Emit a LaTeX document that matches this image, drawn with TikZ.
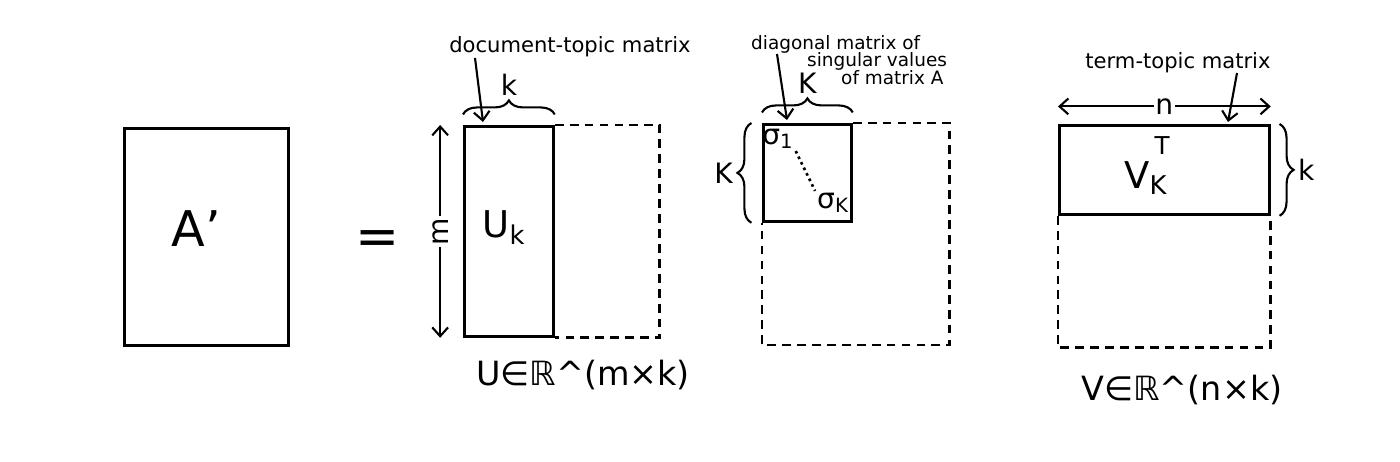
\documentclass[tikz,border=0pt]{standalone}
\usepackage{fontspec}
\setmainfont{DejaVu Sans}
\usetikzlibrary{arrows.meta,positioning,decorations.pathreplacing}
\tikzset{
  mat/.style={draw,line width=1.6pt,inner sep=0pt,anchor=north west},
  ghost/.style={draw,line width=1.6pt,dash pattern=on 5pt off 3.5pt},
  arr/.style={-{Straight Barb[length=5pt,width=9pt]},line width=1.2pt},
  dbl/.style={{Straight Barb[length=5pt,width=9pt]}-{Straight Barb[length=5pt,width=9pt]},line width=1.2pt},
  brc/.style={decorate,decoration={brace,amplitude=8pt},line width=1.2pt},
  note/.style={font=\fontsize{12}{12}\selectfont,inner sep=1pt},
  small note/.style={font=\fontsize{10.5}{10.5}\selectfont,inner sep=0.5pt,anchor=west},
  dim/.style={font=\fontsize{16}{16}\selectfont,inner sep=1pt},
  big/.style={font=\fontsize{21}{21}\selectfont,inner sep=1pt},
}
\begin{document}
\begin{tikzpicture}[x=0.02cm,y=-0.02cm]
\useasboundingbox (0,0) rectangle (1400,462);

% A' = U_k S_k V_k^T
\node[mat,minimum width=3.28cm,minimum height=4.34cm] (A) at (123,127) {};
\node[font=\fontsize{28}{28}\selectfont] (Alab) at (196,229) {A'};
\node[font=\fontsize{30}{30}\selectfont] (eq) at (378,243) {=};

% U_k
\node[mat,minimum width=1.78cm,minimum height=4.2cm] (Uk) at (463,125) {};
\node[big] (Ulab) at (504,228) {U\textsubscript{k}};
\draw[ghost] (Uk.north east) -- ++(105,0) |- (Uk.south east);
\coordinate (mtop) at ([xshift=-13pt]Uk.north west);
\coordinate (mbot) at ([xshift=-13pt]Uk.south west);
\draw[dbl] (mtop) -- node[dim,fill=white,rotate=90] (m) {m} (mbot);
\draw[brc] ([yshift=6pt]Uk.north west) -- node[dim,above=9pt] (kU) {k} ([yshift=6pt]Uk.north east);
\node[note] (doc) at (570,47) {document-topic matrix};
\coordinate (docend) at (483,122);
\draw[arr] (475,58) -- (docend);
\node[big,font=\fontsize{19}{19}\selectfont] (Ueq) at (583,375) {U∈ℝ\^{}(m×k)};

% S_k
\node[mat,minimum width=1.76cm,minimum height=1.94cm] (Sk) at (762,123) {};
\draw[ghost] (Sk.north east) -- ++(97,0) -- ++(0,222) -| (Sk.south west);
\node[dim] (s1) at (778,139) {σ\textsubscript{1}};
\node[dim] (sk) at (833,203) {σ\textsubscript{K}};
\draw[line width=1.5pt,dotted] (s1.south east) -- (sk.north west);
\draw[brc] ([yshift=6pt]Sk.north west) -- node[dim,above=9pt] (kS) {K} ([yshift=6pt]Sk.north east);
\draw[brc] ([xshift=-6pt]Sk.south west) -- node[dim,left=9pt] (kL) {K} ([xshift=-6pt]Sk.north west);
\node[small note] (d1) at (750,44) {diagonal matrix of};
\node[small note] (d2) at (806,61) {singular values};
\node[small note] (d3) at (840,78) {of matrix A};
\coordinate (diagend) at (787,120);
\draw[arr] (777,54) -- (diagend);

% V_k^T
\node[mat,minimum width=4.2cm,minimum height=1.78cm] (Vk) at (1058,124) {};
\node[big] (Vlab) at (1146,178) {V\textsubscript{K}};
\node[dim,font=\fontsize{14}{14}\selectfont] (Tlab) at (1162,146) {T};
\draw[ghost] (Vk.south west) -- ++(0,132) -| (Vk.south east);
\coordinate (nl) at ([yshift=10pt]Vk.north west);
\coordinate (nr) at ([yshift=10pt]Vk.north east);
\draw[dbl] (nl) -- node[dim,fill=white] (n) {n} (nr);
\draw[brc] ([xshift=5pt]Vk.north east) -- node[dim,right=9pt] (kV) {k} ([xshift=5pt]Vk.south east);
\node[note] (term) at (1178,63) {term-topic matrix};
\coordinate (termend) at (1228,122);
\draw[arr] (1237,73) -- (termend);
\node[big,font=\fontsize{19}{19}\selectfont] (Veq) at (1182,390) {V∈ℝ\^{}(n×k)};
\end{tikzpicture}
\end{document}
